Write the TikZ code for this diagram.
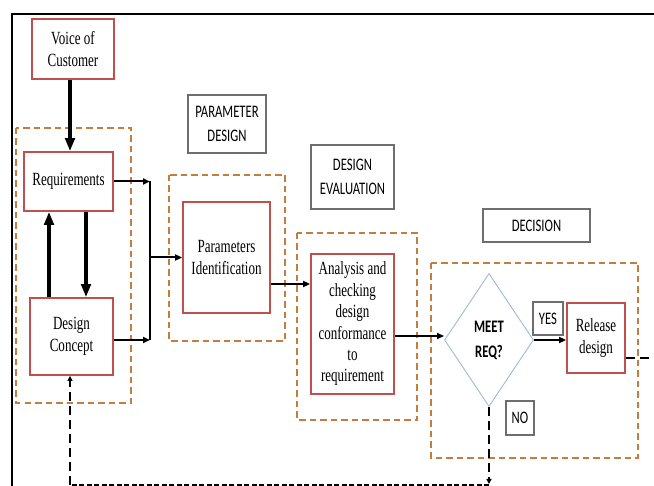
\documentclass[tikz,border=0pt]{standalone}
\usepackage{fontspec}
\usetikzlibrary{arrows.meta,shapes.geometric}
\newfontfamily\boxfont[FakeStretch=0.7]{Liberation Serif}
\newfontfamily\labfont[FakeStretch=0.72]{Carlito}
\definecolor{boxred}{RGB}{192,80,77}
\definecolor{grporange}{RGB}{196,125,60}
\definecolor{labgray}{RGB}{110,110,110}
\definecolor{diablue}{RGB}{160,185,215}
\begin{document}
\begin{tikzpicture}[x=1pt,y=-1pt,
  redbox/.style={draw=boxred,line width=1.8pt,fill=white,inner sep=0pt,align=center,
    font=\boxfont\fontsize{18.6}{21.4}\selectfont},
  labbox/.style={draw=labgray,line width=1.1pt,fill=white,inner sep=0pt,align=center,
    font=\labfont\fontsize{17.6}{24}\selectfont},
  grp/.style={draw=grporange,line width=1.8pt,dash pattern=on 6.5pt off 4pt},
  thickarrow/.style={line width=3.2pt,-{Triangle[length=13pt,width=9.5pt]}},
  thinarrow/.style={line width=2pt,-{Triangle[length=7pt,width=6pt]}},
  fbdash/.style={line width=1.8pt,dash pattern=on 9pt off 5pt},
  fbdashfine/.style={line width=1.5pt,dash pattern=on 5pt off 2.5pt}
]
\useasboundingbox (0,0) rectangle (654,486);
% frame
\coordinate (fbl) at (12,486);
\coordinate (ftl) at (12,14);
\coordinate (ftr) at (654,14);
\draw[line width=2.2pt] (fbl) -- (ftl) -- (ftr);

% group boxes
\draw[grp] (16,128) rectangle (131,403);
\draw[grp] (169,175) rectangle (285,341);
\draw[grp] (297,233) rectangle (417,420);
\draw[grp] (431,263) rectangle (638,458);

% process boxes
\node[redbox,minimum width=82pt,minimum height=60pt] (voc) at (73,49) {Voice of\\Customer};
\node[redbox,minimum width=89pt,minimum height=59pt] (req) at (68.5,181.5) {Requirements};
\node[redbox,minimum width=83pt,minimum height=77pt] (dc) at (71.5,336.5) {Design\\Concept};
\node[redbox,minimum width=87pt,minimum height=111pt] (par) at (226.5,257.5) {Parameters\\Identification};
\node[redbox,minimum width=83pt,minimum height=140pt] (an) at (352.5,324) {Analysis and\\checking\\design\\conformance\\to\\requirement};
\node[redbox,minimum width=58pt,minimum height=70pt] (rel) at (596,338) {Release\\design};
\node[draw=diablue,line width=0.9pt,fill=white,diamond,inner sep=0pt,
  minimum width=89pt,minimum height=133pt,align=center,
  font=\labfont\bfseries\fontsize{17.6}{25}\selectfont] (dia) at (489,340) {MEET\\REQ?};

% label boxes
\node[labbox,minimum width=78pt,minimum height=58pt] (pd) at (227,124) {PARAMETER\\DESIGN};
\node[labbox,minimum width=83pt,minimum height=64pt] (de) at (352.5,177) {DESIGN\\EVALUATION};
\node[labbox,minimum width=107pt,minimum height=33pt] (dec) at (536.5,225.5) {DECISION};
\node[labbox,minimum width=30pt,minimum height=33pt] (yes) at (548,318.5) {YES};
\node[labbox,minimum width=28pt,minimum height=34pt] (no) at (520,418) {NO};

% coordinates
\coordinate (up) at (49,0);
\coordinate (down) at (86,0);
\coordinate (bus) at (150,0);
\coordinate (pa) at (0,284);
\coordinate (aa) at (0,336);
\coordinate (rr) at (0,358);
\coordinate (redge) at (654,358);
\coordinate (nob) at (0,484);
\coordinate (fb) at (70,485);

% thick arrows
\draw[thickarrow] (voc.south -| 70,0) -- (req.north -| 70,0);
\draw[thickarrow] (dc.north -| up) -- (req.south -| up);
\draw[thickarrow] (req.south -| down) -- (dc.north -| down);

% thin arrows
\coordinate (dcout) at ([yshift=-3.5pt]dc.east);
\draw[thinarrow] (req.east) -- (req.east -| bus);
\draw[thinarrow] (dcout) -- (dcout -| bus);
\draw[line width=1.8pt] (req.east -| bus) -- (dcout -| bus);
\draw[thinarrow] (bus |- par.west) -- (par.west);
\draw[thinarrow] (par.east |- pa) -- (an.west |- pa);
\draw[thinarrow] (an.east |- aa) -- (dia.west |- aa);
\draw[thinarrow] (dia.east) -- (rel.west |- dia.east);

% dashed feedback
\draw[fbdash] (rel.east |- rr) -- (redge);
\draw[fbdash,-{Triangle[length=5pt,width=5pt]}] (dia.south) -- (dia.south |- nob);
\draw[fbdashfine] (dia.south |- fb) -- (fb);
\draw[fbdash,-{Triangle[length=5pt,width=5pt]}] (fb) -- (fb |- dc.south);
\end{tikzpicture}
\end{document}
